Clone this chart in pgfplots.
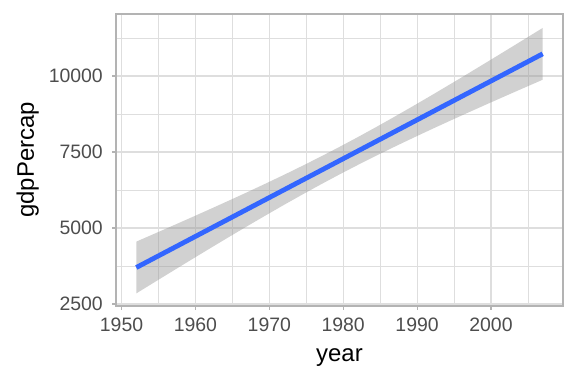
\documentclass[border=0pt]{standalone}
\usepackage{fontspec}
\setmainfont{Liberation Sans}
\usepackage{pgfplots}
\pgfplotsset{compat=1.18}
\definecolor{tickgrey}{HTML}{4D4D4D}
\definecolor{gridgrey}{HTML}{DEDEDE}
\definecolor{bordergrey}{HTML}{B3B3B3}
\definecolor{smoothblue}{HTML}{3366FF}
\begin{document}
\begin{tikzpicture}
\path[use as bounding box] (-116bp,-78bp) rectangle (460bp,306bp);
\begin{axis}[
  at={(0,0)}, anchor=south west,
  scale only axis, width=447bp, height=292bp,
  xmin=1949.25, xmax=2009.75, ymin=2434, ymax=12040,
  xtick={1950,1960,1970,1980,1990,2000},
  ytick={2500,5000,7500,10000},
  minor xtick={1955,1965,1975,1985,1995,2005},
  minor ytick={3750,6250,8750,11250},
  scaled ticks=false,
  /pgf/number format/.cd, set thousands separator={}, assume math mode=true, /pgfplots/.cd,
  grid=both,
  major grid style={color=gridgrey, line width=1.1bp},
  minor grid style={color=gridgrey, line width=0.55bp},
  axis line style={color=bordergrey, line width=1.4bp},
  tick align=outside, tick pos=left,
  major tick length=3.7bp, minor tick length=0pt,
  tick style={color=bordergrey, line width=1.1bp},
  ticklabel style={font=\fontsize{19.5}{20}\selectfont, text=tickgrey},
  xticklabel style={yshift=-5bp},
  yticklabel style={xshift=-6bp},
  xlabel={year}, ylabel={gdpPercap},
  label style={font=\fontsize{24}{26}\selectfont},
  xlabel style={yshift=-10bp},
  ylabel style={yshift=3bp},
]
\addplot[draw=none, fill=black!40, fill opacity=0.45] table {
x y
1952 2848.5
1954.5 3223
1957 3595.5
1959.5 3966
1962 4333.5
1964.5 4698
1967 5058.5
1969.5 5413
1972 5762.5
1974.5 6104
1977 6437.5
1979.5 6762
1982 7076.5
1984.5 7382
1987 7679.5
1989.5 7969
1992 8253.5
1994.5 8532
1997 8806.5
1999.5 9078
2002 9346.5
2004.5 9613
2007 9877.5
2007 11581.5
2004.5 11207
2002 10834.5
1999.5 10464
1997 10096.5
1994.5 9732
1992 9371.5
1989.5 9017
1987 8667.5
1984.5 8326
1982 7992.5
1979.5 7668
1977 7353.5
1974.5 7048
1972 6750.5
1969.5 6461
1967 6176.5
1964.5 5898
1962 5623.5
1959.5 5352
1957 5083.5
1954.5 4817
1952 4552.5
} -- cycle;
\addplot[color=smoothblue, line width=4.8bp] table {
x y
1952 3700.5
2007 10729.5
};
\end{axis}
\end{tikzpicture}
\end{document}
